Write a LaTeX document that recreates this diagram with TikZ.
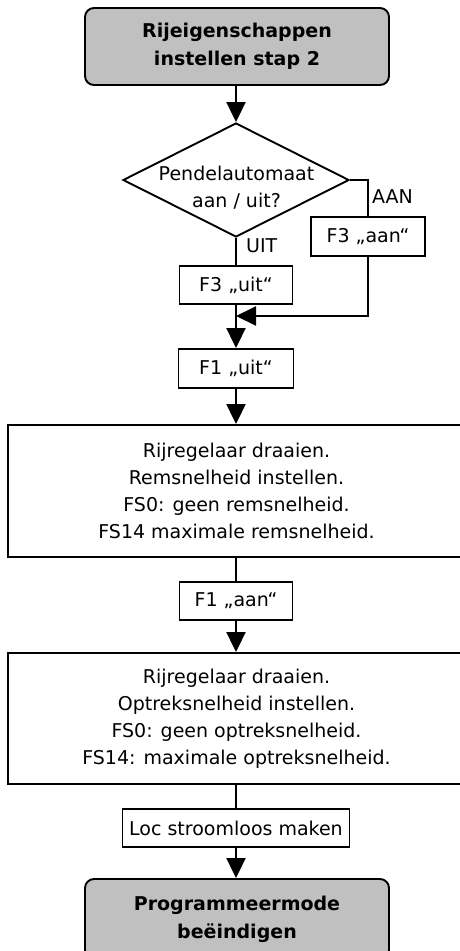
\documentclass[tikz,border=0pt]{standalone}
\usepackage{fontspec}
\setmainfont{DejaVu Sans}
\usetikzlibrary{arrows.meta,shapes.geometric}
\definecolor{termgray}{HTML}{C0C0C0}
\begin{document}
\begin{tikzpicture}[x=1pt,y=-1pt,
  every node/.style={font=\fontsize{19}{27}\selectfont, inner sep=0pt},
  box/.style={draw, line width=1.9pt, align=center},
  term/.style={box, rounded corners=9pt, fill=termgray, font=\fontsize{19}{28}\selectfont\bfseries},
  decision/.style={draw, diamond, line width=1.9pt, minimum width=226pt, minimum height=114pt},
  lbl/.style={anchor=west},
  conn/.style={line width=2pt},
  arr/.style={conn, -{Triangle[length=20pt,width=19pt]}}]
\useasboundingbox (0,0) rectangle (460,951);
\node[term, minimum width=304pt, minimum height=77pt] (start) at (237,46.5) {Rijeigenschappen\\instellen stap 2};
\node[decision] (dec) at (236,180) {};
\node[align=center] (dect) at (236.5,188) {Pendelautomaat\\aan / uit?};
\node[box, minimum width=114pt, minimum height=39pt] (f3aan) at (368,236.5) {F3 „aan“};
\node[box, minimum width=113pt, minimum height=38pt] (f3uit) at (236,285) {F3 „uit“};
\node[lbl] (aan) at (372,197) {AAN};
\node[lbl] (uit) at (246,246) {UIT};
\coordinate (mrg) at (236,316);
\node[box, minimum width=115pt, minimum height=39pt] (f1uit) at (236,368.5) {F1 „uit“};
\node[box, minimum width=457pt, minimum height=132pt] (big1) at (236.5,491) {Rijregelaar draaien.\\Remsnelheid instellen.\\FS0: geen remsnelheid.\\FS14 maximale remsnelheid.};
\node[box, minimum width=113pt, minimum height=38pt] (f1aan) at (236,601) {F1 „aan“};
\node[box, minimum width=457pt, minimum height=131pt] (big2) at (236.5,718.5) {Rijregelaar draaien.\\Optreksnelheid instellen.\\FS0: geen optreksnelheid.\\FS14: maximale optreksnelheid.};
\node[box, minimum width=227pt, minimum height=38pt] (loc) at (236,828) {Loc stroomloos maken};
\node[term, minimum width=304pt, minimum height=80pt] (end) at (237,919) {Programmeermode\\beëindigen};
\draw[arr] (start.south -| dec.north) -- (dec.north);
\draw[conn] (dec.east) -| (f3aan.north);
\draw[conn] (dec.south) -- (f3uit.north);
\draw[arr] (f3uit) -- (f1uit);
\draw[arr] (f3aan.south) |- (mrg);
\draw[arr] (f1uit.south) -- (f1uit.south |- big1.north);
\draw[conn] (f1aan.north |- big1.south) -- (f1aan.north);
\draw[arr] (f1aan.south) -- (f1aan.south |- big2.north);
\draw[conn] (loc.north |- big2.south) -- (loc.north);
\draw[arr] (loc.south) -- (loc.south |- end.north);
\end{tikzpicture}
\end{document}
